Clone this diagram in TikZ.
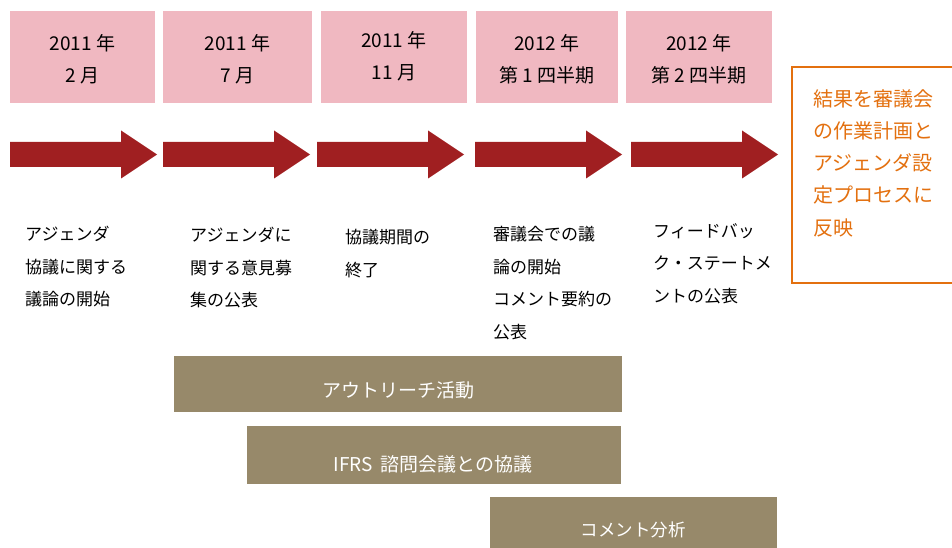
\documentclass[tikz,border=0pt]{standalone}
\usepackage{fontspec}
\setmainfont{Noto Sans CJK JP}
\definecolor{datepink}{HTML}{F0B8C1}
\definecolor{arrowred}{HTML}{A01F21}
\definecolor{barbrown}{HTML}{97896A}
\definecolor{resorange}{HTML}{E3700F}
\tikzset{
  datebox/.style={fill=datepink, draw=none, inner sep=0pt, minimum height=92pt},
  datetext/.style={inner sep=0pt, align=center,
    font=\fontsize{19}{32}\selectfont, text=black},
  desc/.style={anchor=north west, inner sep=0pt, align=left,
    font=\fontsize{17}{32.5}\selectfont, text=black},
  bartext/.style={inner sep=0pt, text=white, font=\fontsize{19}{22}\selectfont},
  restext/.style={anchor=north west, inner sep=0pt, align=left,
    font=\fontsize{20}{32.3}\selectfont, text=resorange},
  bigarrow/.pic={\fill[arrowred] (0,-12.5) -- (111,-12.5) -- (111,-24) -- (147,0)
      -- (111,24) -- (111,12.5) -- (0,12.5) -- cycle;}
}
\begin{document}
\begin{tikzpicture}[x=1pt,y=-1pt]
\useasboundingbox (0,0) rectangle (952,548);
\clip (0,0) rectangle (952,548);

% date boxes
\node[datebox, minimum width=145pt] (d1) at (82.5,57) {};
\node[datebox, minimum width=149pt] (d2) at (237.5,57) {};
\node[datebox, minimum width=146pt] (d3) at (394,57) {};
\node[datebox, minimum width=142pt] (d4) at (547,57) {};
\node[datebox, minimum width=146pt] (d5) at (699,57) {};
\node[datetext] (l1) at (82.5,59) {2011 年\\2 月};
\node[datetext] (l2) at (237.5,59) {2011 年\\7 月};
\node[datetext] (l3) at (394,56) {2011 年\\11 月};
\node[datetext] (l4) at (547,59) {2012 年\\第 1 四半期};
\node[datetext] (l5) at (699,59) {2012 年\\第 2 四半期};

% arrows
\pic at (10,154.5) {bigarrow};
\pic at (163,154.5) {bigarrow};
\pic at (317,154.5) {bigarrow};
\pic at (475,154.5) {bigarrow};
\pic at (631,154.5) {bigarrow};

% result box
\draw[resorange, line width=2pt] (792,67) rectangle (970,283);
\node[restext] (res) at (813,89) {結果を審議会\\の作業計画と\\アジェンダ設\\定プロセスに\\反映};

% descriptions
\node[desc] (e1) at (25,226) {アジェンダ\\協議に関する\\議論の開始};
\node[desc] (e2) at (190,227) {アジェンダに\\関する意見募\\集の公表};
\node[desc] (e3) at (345,229) {協議期間の\\終了};
\node[desc] (e4) at (493,226) {審議会での議\\論の開始\\コメント要約の\\公表};
\node[desc] (e5) at (653,223) {フィードバッ\\ク・ステートメ\\ントの公表};

% bars
\fill[barbrown] (174,356) rectangle (622,412);
\fill[barbrown] (247,426) rectangle (621,484);
\fill[barbrown] (490,497) rectangle (777,560);
\node[bartext] (b1) at (398,390) {アウトリーチ活動};
\node[bartext] (b2) at (433,464) {IFRS\hspace{8pt}諮問会議との協議};
\node[bartext, font=\fontsize{17.5}{20}\selectfont] (b3) at (633,530) {コメント分析};
\end{tikzpicture}
\end{document}
